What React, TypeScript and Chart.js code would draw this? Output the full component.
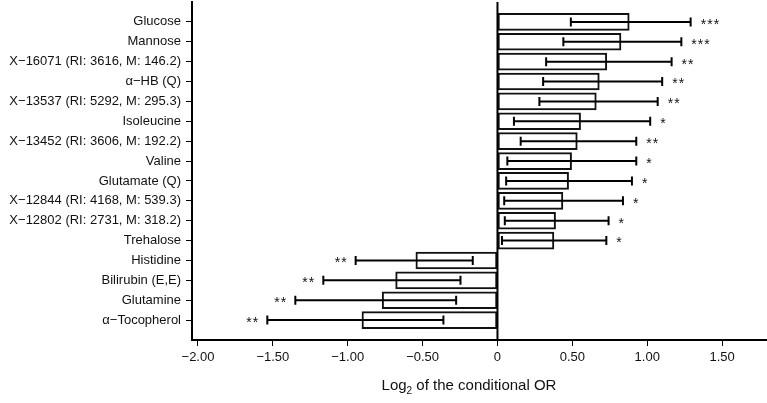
import React, { useEffect, useRef } from "react";
import { Chart, registerables } from "chart.js";

Chart.register(...registerables);

const categories = [
  "Glucose",
  "Mannose",
  "X\u221216071 (RI: 3616, M: 146.2)",
  "\u03b1\u2212HB (Q)",
  "X\u221213537 (RI: 5292, M: 295.3)",
  "Isoleucine",
  "X\u221213452 (RI: 3606, M: 192.2)",
  "Valine",
  "Glutamate (Q)",
  "X\u221212844 (RI: 4168, M: 539.3)",
  "X\u221212802 (RI: 2731, M: 318.2)",
  "Trehalose",
  "Histidine",
  "Bilirubin (E,E)",
  "Glutamine",
  "\u03b1\u2212Tocopherol",
];
const values = [0.88, 0.825, 0.73, 0.68, 0.66, 0.555, 0.533, 0.495, 0.475, 0.437, 0.388, 0.377, -0.545, -0.68, -0.77, -0.905];
const lower = [0.49, 0.44, 0.325, 0.305, 0.28, 0.11, 0.155, 0.066, 0.058, 0.045, 0.049, 0.03, -0.947, -1.163, -1.35, -1.537];
const upper = [1.29, 1.228, 1.163, 1.1, 1.07, 1.02, 0.927, 0.927, 0.898, 0.838, 0.742, 0.727, -0.165, -0.247, -0.276, -0.361];
const stars = ["***", "***", "**", "**", "**", "*", "**", "*", "*", "*", "*", "*", "**", "**", "**", "**"];
const xTicks = [-2, -1.5, -1, -0.5, 0, 0.5, 1, 1.5];
const xMin = -2.04;
const xMax = 1.8;
const xTitle = ["Log", "2", " of the conditional OR"];

const FONT = "'Liberation Sans', Arial, Helvetica, sans-serif";

const fmt = (v: number) => (v === 0 ? "0" : (v < 0 ? "\u2212" : "") + Math.abs(v).toFixed(2));

export default function App() {
  const ref = useRef<HTMLCanvasElement>(null);
  useEffect(() => {
    const labels = ["", ...categories, ""];
    const data = [null, ...values, null];
    const overlay = {
      id: "overlay",
      afterDatasetsDraw(chart: any) {
        const { ctx, chartArea, scales } = chart;
        const xs = scales.x;
        const ys = scales.y;
        ctx.save();
        ctx.strokeStyle = "#000";
        ctx.lineWidth = 2;
        const x0 = xs.getPixelForValue(0);
        ctx.beginPath();
        ctx.moveTo(x0, chartArea.top);
        ctx.lineTo(x0, chartArea.bottom);
        ctx.stroke();
        categories.forEach((_, i) => {
          const y = ys.getPixelForValue(i + 1);
          const xl = xs.getPixelForValue(lower[i]);
          const xh = xs.getPixelForValue(upper[i]);
          ctx.beginPath();
          ctx.moveTo(xl, y);
          ctx.lineTo(xh, y);
          ctx.moveTo(xl, y - 4.5);
          ctx.lineTo(xl, y + 4.5);
          ctx.moveTo(xh, y - 4.5);
          ctx.lineTo(xh, y + 4.5);
          ctx.stroke();
          ctx.fillStyle = "#111";
          ctx.font = `14px ${FONT}`;
          ctx.textBaseline = "middle";
          ctx.textAlign = "left";
          const s = stars[i];
          const step = 6.5;
          const w = step * s.length;
          const startX = values[i] >= 0 ? xh + 10 : xl - 8 - w;
          for (let k = 0; k < s.length; k++) {
            ctx.fillText("*", startX + k * step, y + 3);
          }
        });
        const cx = 469;
        const ty = 386;
        ctx.fillStyle = "#111";
        ctx.textBaseline = "middle";
        ctx.textAlign = "left";
        ctx.font = `15px ${FONT}`;
        const w1 = ctx.measureText(xTitle[0]).width;
        const w3 = ctx.measureText(xTitle[2]).width;
        ctx.font = `10px ${FONT}`;
        const w2 = ctx.measureText(xTitle[1]).width;
        const total = w1 + w2 + w3;
        let sx = cx - total / 2;
        ctx.font = `15px ${FONT}`;
        ctx.fillText(xTitle[0], sx, ty);
        sx += w1;
        ctx.font = `10px ${FONT}`;
        ctx.fillText(xTitle[1], sx, ty + 5);
        sx += w2;
        ctx.font = `15px ${FONT}`;
        ctx.fillText(xTitle[2], sx, ty);
        ctx.restore();
      },
    };
    const chart = new Chart(ref.current as HTMLCanvasElement, {
      type: "bar",
      data: {
        labels,
        datasets: [
          {
            data,
            backgroundColor: "#ffffff",
            borderColor: "#111111",
            borderWidth: 2,
            borderSkipped: false,
            barThickness: 17,
          } as any,
        ],
      },
      options: {
        indexAxis: "y",
        animation: false,
        responsive: false,
        maintainAspectRatio: false,
        layout: { padding: { top: 2, left: 0, right: 0, bottom: 0 } },
        plugins: { legend: { display: false }, tooltip: { enabled: false }, title: { display: false } },
        scales: {
          y: {
            type: "category",
            offset: false,
            afterFit: (s: any) => {
              s.width = 192;
              s.paddingTop = 0;
              s.paddingBottom = 0;
            },
            grid: {
              display: true,
              offset: false,
              drawOnChartArea: false,
              tickLength: 6,
              tickWidth: 1,
              color: "#000",
              tickColor: (c: any) => (c.index === 0 || c.index === labels.length - 1 ? "rgba(0,0,0,0)" : "#000"),
            },
            border: { display: true, color: "#000", width: 2 },
            ticks: {
              color: "#111",
              font: { family: FONT, size: 13 },
              padding: 5,
              autoSkip: false,
            },
          },
          x: {
            type: "linear",
            min: xMin,
            max: xMax,
            afterBuildTicks: (s: any) => {
              s.ticks = xTicks.map((v) => ({ value: v }));
            },
            afterFit: (s: any) => {
              s.height = 63;
              s.paddingLeft = 0;
              s.paddingRight = 0;
            },
            grid: {
              display: true,
              drawOnChartArea: false,
              tickLength: 6,
              tickWidth: 1,
              color: "#000",
              tickColor: "#000",
            },
            border: { display: true, color: "#000", width: 2 },
            ticks: {
              color: "#111",
              font: { family: FONT, size: 13 },
              padding: 4,
              maxRotation: 0,
              autoSkip: false,
              callback: (v: any) => fmt(Number(v)),
            },
          },
        },
      },
      plugins: [overlay],
    });
    return () => chart.destroy();
  }, []);
  return (
    <div style={{ position: "fixed", left: 0, top: 0, width: 767, height: 403, background: "#fff" }}>
      <canvas ref={ref} width={767} height={403} style={{ width: 767, height: 403 }} />
    </div>
  );
}
